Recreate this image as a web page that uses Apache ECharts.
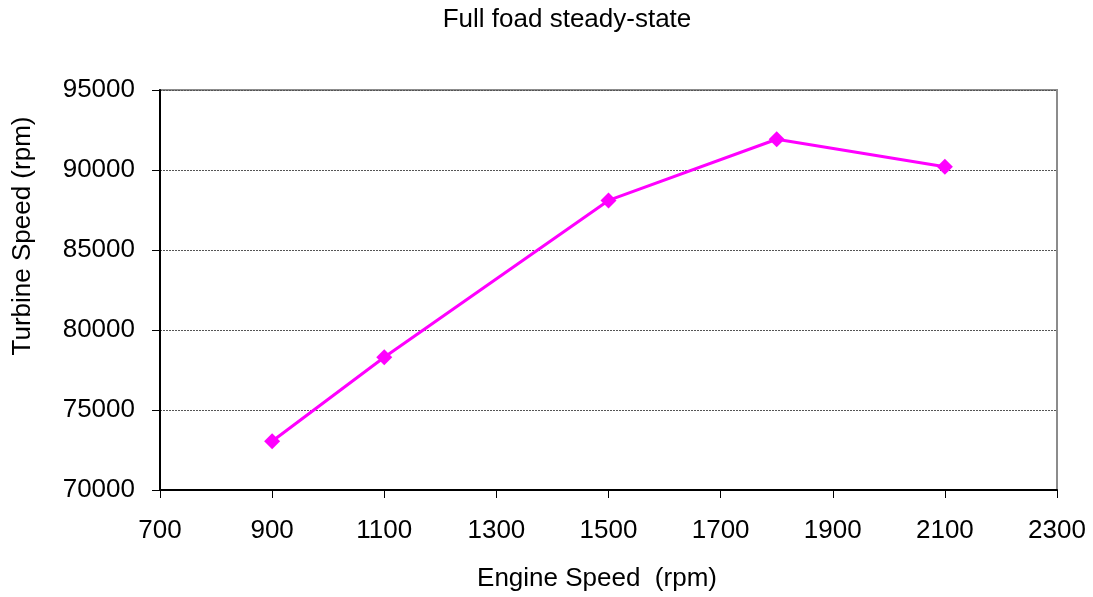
<!DOCTYPE html>
<html>
<head>
<meta charset="utf-8">
<script src="https://cdn.jsdelivr.net/npm/echarts@6/dist/echarts.min.js"></script>
<style>
  html, body { margin: 0; padding: 0; background: #fff; }
  #chart { width: 1093px; height: 597px; }
</style>
</head>
<body>
<div id="chart"></div>
<script>
// Turbocharger turbine speed at full load vs engine speed
const titleText = 'Full foad steady-state';
const xName = 'Engine Speed  (rpm)';
const yName = 'Turbine Speed (rpm)';
const engineSpeed = [900, 1100, 1500, 1800, 2100];
const turbineSpeed = [73050, 78300, 88100, 91920, 90200];

const FONT = '"Liberation Sans", Arial, sans-serif';
const plain = v => String(v);

const chart = echarts.init(document.getElementById('chart'));
chart.setOption({
  animation: false,
  backgroundColor: '#ffffff',
  grid: {
    left: 160, right: 36, top: 90, bottom: 107,
    show: true, borderColor: '#8c8c8c', borderWidth: 2, backgroundColor: 'transparent'
  },
  xAxis: {
    type: 'value',
    min: 700, max: 2300, interval: 200,
    axisLine: { lineStyle: { color: '#000', width: 2 } },
    axisTick: { show: true, length: 8, lineStyle: { color: '#000', width: 1 } },
    axisLabel: { fontFamily: FONT, fontSize: 26, color: '#000', margin: 28, formatter: plain },
    splitLine: { show: false }
  },
  yAxis: {
    type: 'value',
    min: 70000, max: 95000, interval: 5000,
    axisLine: { show: true, lineStyle: { color: '#000', width: 2 } },
    axisTick: { show: true, length: 8, lineStyle: { color: '#000', width: 1 } },
    axisLabel: { fontFamily: FONT, fontSize: 26, color: '#000', margin: 25, formatter: plain },
    splitLine: { show: true, lineStyle: { color: '#555', type: [2, 1], width: 1 } }
  },
  graphic: [
    {
      type: 'text', x: 567, y: 20,
      style: { text: titleText, fontFamily: FONT, fontSize: 26, fill: '#000', align: 'center', verticalAlign: 'middle' }
    },
    {
      type: 'text', x: 597, y: 579,
      style: { text: xName, fontFamily: FONT, fontSize: 26, fill: '#000', align: 'center', verticalAlign: 'middle' }
    },
    {
      type: 'text', x: 23, y: 236, rotation: Math.PI / 2,
      style: { text: yName, fontFamily: FONT, fontSize: 26, fill: '#000', align: 'center', verticalAlign: 'middle' }
    }
  ],
  series: [{
    type: 'line',
    data: engineSpeed.map((x, i) => [x, turbineSpeed[i]]),
    symbol: 'diamond',
    symbolSize: 16,
    lineStyle: { color: '#ff00ff', width: 3 },
    itemStyle: { color: '#ff00ff' }
  }]
});
</script>
</body>
</html>
